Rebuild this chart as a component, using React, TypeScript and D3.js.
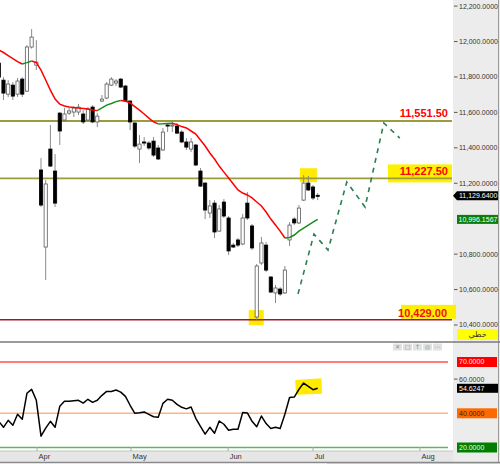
import React from "react";
import * as d3 from "d3";

// ---------- DATA ----------
const opens = [
  11878, 11782, 11703, 11754, 11703, 11788, 11720, 11969, 11867, 11275,
  10840, 11393, 11269, 11596, 11557, 11596, 11602, 11602, 11591, 11557,
  11630, 11546, 11664, 11681, 11754, 11766, 11788, 11749, 11664, 11540,
  11393, 11433, 11427, 11438, 11399, 11388, 11529, 11523, 11523, 11489,
  11433, 11393, 11416, 11269, 11201, 11032, 11088, 10930, 11094, 11004,
  10851, 10880, 10857, 11088, 10959, 10445, 10750, 10851, 10671, 10581,
  10603, 10581, 10880, 10998, 10976, 11105, 11201, 11179, 11132,
];
const highs = [
  11907, 11799, 11782, 11771, 11794, 11799, 11980, 12070, 12008, 11342,
  11218, 11529, 11365, 11602, 11625, 11625, 11636, 11647, 11613, 11630,
  11641, 11596, 11698, 11771, 11799, 11788, 11794, 11754, 11670, 11546,
  11472, 11461, 11438, 11461, 11416, 11512, 11540, 11546, 11540, 11500,
  11455, 11455, 11421, 11286, 11207, 11105, 11105, 11077, 11111, 11015,
  10863, 10891, 11026, 11151, 10970, 10744, 10897, 10868, 10676, 10626,
  10614, 10733, 10981, 11009, 11077, 11246, 11241, 11190, 11145,
];
const lows = [
  11782, 11670, 11687, 11670, 11687, 11687, 11715, 11960, 11839, 11066,
  10654, 11292, 11066, 11416, 11546, 11585, 11574, 11585, 11534, 11551,
  11540, 11517, 11658, 11675, 11749, 11749, 11737, 11658, 11500, 11399,
  11314, 11410, 11388, 11348, 11331, 11382, 11489, 11489, 11478, 11427,
  11388, 11376, 11297, 11179, 10998, 11004, 10891, 10925, 11004, 10795,
  10835, 10840, 10851, 10993, 10823, 10429, 10739, 10699, 10580, 10524,
  10564, 10575, 10846, 10964, 10970, 11100, 11156, 11105, 11105,
];
const closes = [
  11799, 11709, 11760, 11692, 11777, 11703, 11969, 12025, 11884, 11077,
  11196, 11297, 11088, 11495, 11591, 11608, 11625, 11630, 11546, 11619,
  11546, 11579, 11675, 11760, 11788, 11777, 11743, 11664, 11546, 11410,
  11421, 11427, 11399, 11359, 11337, 11489, 11523, 11529, 11483, 11433,
  11404, 11433, 11303, 11184, 11049, 11072, 10925, 11055, 11015, 10818,
  10840, 10851, 11004, 11004, 10835, 10733, 10863, 10710, 10586, 10609,
  10575, 10710, 10964, 10976, 11060, 11201, 11162, 11117, 11129.64,
];
const maValues = [
  11952, 11938, 11921, 11904, 11887, 11873, 11881, 11890, 11881, 11839,
  11783, 11726, 11675, 11647, 11636, 11630, 11627, 11625, 11622, 11619,
  11613, 11610, 11625, 11641, 11650, 11661, 11667, 11664, 11653, 11633,
  11613, 11591, 11568, 11546, 11535, 11536, 11538, 11539, 11531, 11520,
  11512, 11495, 11478, 11444, 11410, 11371, 11337, 11297, 11263, 11230,
  11196, 11162, 11145, 11134, 11117, 11094, 11072, 11038, 10998, 10964,
  10930, 10891, 10894, 10908, 10930, 10947, 10964, 10981, 10996.1567,
];
const rsiValues = [
  35.3, 31.8, 35.9, 33.0, 39.4, 36.5, 51.7, 54.0, 47.6, 26.6,
  31.3, 35.3, 31.8, 44.1, 47.0, 47.0, 47.3, 47.6, 46.0, 48.2,
  46.4, 47.6, 50.5, 52.8, 52.8, 53.6, 52.4, 49.9, 44.7, 40.0,
  40.3, 40.8, 39.4, 38.0, 37.7, 45.8, 48.2, 47.6, 45.2, 43.5,
  42.6, 43.7, 37.1, 32.4, 27.8, 31.8, 28.3, 35.5, 33.6, 30.1,
  30.7, 30.7, 40.4, 40.2, 35.3, 32.1, 38.4, 34.0, 31.1, 31.8,
  31.1, 39.4, 49.2, 49.5, 54.0, 57.7, 55.7, 53.8, 54.6247,
];
const priceTicks = [12200, 12000, 11800, 11600, 11400, 11200, 10800, 10600, 10400];
const monthLabels = ["Apr", "May", "Jun", "Jul", "Aug"];
const monthPositions = [8.15, 28.2, 48.9, 67, 89.8];
const upperLevel = 11551.5;
const middleLevel = 11227.5;
const supportLevel = 10429;
const projectionIdx = [63.8, 67.2, 70.2, 74.2, 78.1, 82.1, 85.5];
const projectionPrice = [10575, 10913, 10823, 11207, 11066, 11540, 11455];
const rsiLevels = [70, 40, 20];
const rsiTickValues = [60];
const modeLabel = "خطي";

// ---------- CHART ----------
const FONT = "'Liberation Sans', Arial, sans-serif";
const AX_FS = 7;

export default function App() {
  const n = closes.length;
  const idx = d3.range(n);
  const x = d3.scaleLinear().domain([0, 68]).range([-1.2, 317.7]);
  const y = d3.scaleLinear().domain([10400, 12200]).range([325, 6.1]);
  const r = d3.scaleLinear().domain([20, 70]).range([447.5, 362]);
  const f4 = d3.format(",.4f");
  const f2 = d3.format(",.2f");
  const plotRight = 452;
  const axisX = 453;
  const bodyW = 3.2;

  const maRuns: { color: string; pts: number[] }[] = [];
  for (let i = 0; i < n - 1; i++) {
    const color = maValues[i + 1] >= maValues[i] ? "#1a8c1a" : "#ff0000";
    const last = maRuns[maRuns.length - 1];
    if (last && last.color === color) last.pts.push(i + 1);
    else maRuns.push({ color, pts: [i, i + 1] });
  }
  const maLine = d3
    .line<number>()
    .x((i) => x(i))
    .y((i) => y(maValues[i]));

  const rsiLine = d3
    .line<number>()
    .x((i) => x(i))
    .y((i) => r(rsiValues[i]));

  const projLine = d3
    .line<number>()
    .x((i) => x(projectionIdx[i]))
    .y((i) => y(projectionPrice[i]));

  const lastClose = closes[n - 1];
  const lastMa = maValues[n - 1];
  const lastRsi = rsiValues[n - 1];

  const rsiColors: Record<number, { line: string; box: string; text: string }> = {
    70: { line: "#ff5050", box: "#ff0000", text: "#ffe8e8" },
    40: { line: "#ffb482", box: "#ff6a00", text: "#3a1a00" },
    20: { line: "#5cb85c", box: "#008000", text: "#e8ffe8" },
  };

  const icons = ["✕", "□", "↑", "◎", "⋯"];

  return (
    <svg
      width={500}
      height={464}
      style={{ position: "absolute", left: 0, top: 0, background: "#fff" }}
      fontFamily={FONT}
    >
      <rect x={0} y={0} width={500} height={464} fill="#ffffff" />
      <rect x={axisX} y={0} width={47} height={464} fill="#ececec" />
      <line x1={498.5} x2={498.5} y1={0} y2={464} stroke="#9a9a9a" />

      {/* highlights */}
      <rect x={x(64.2)} y={y(11285)} width={17} height={14} fill="#ffea00" />
      <rect x={x(53.3)} y={y(10484)} width={15} height={15} fill="#ffea00" />

      {/* level lines */}
      <line x1={0} x2={plotRight} y1={y(upperLevel)} y2={y(upperLevel)} stroke="#9c9c3c" strokeWidth={1.8} />
      <line x1={0} x2={plotRight} y1={y(middleLevel)} y2={y(middleLevel)} stroke="#9c9c3c" strokeWidth={1.8} />
      <line x1={0} x2={plotRight} y1={y(supportLevel)} y2={y(supportLevel)} stroke="#a3192b" strokeWidth={1.5} />

      {/* candles */}
      {idx.map((i) => {
        const up = closes[i] >= opens[i];
        const top = y(Math.max(opens[i], closes[i]));
        const bot = y(Math.min(opens[i], closes[i]));
        const cx = x(i);
        return (
          <g key={i}>
            <line x1={cx} x2={cx} y1={y(highs[i])} y2={y(lows[i])} stroke="#8a8a8a" strokeWidth={1} />
            <rect
              x={cx - bodyW / 2}
              y={top}
              width={bodyW}
              height={Math.max(1, bot - top)}
              fill={up ? "#ffffff" : "#000000"}
              stroke={up ? "#5a5a5a" : "#000000"}
              strokeWidth={0.8}
            />
          </g>
        );
      })}

      {/* MA */}
      {maRuns.map((run, k) => (
        <path key={k} d={maLine(run.pts) || ""} fill="none" stroke={run.color} strokeWidth={1.5} />
      ))}

      {/* projection */}
      <path
        d={projLine(d3.range(projectionIdx.length)) || ""}
        fill="none"
        stroke="#2a8050"
        strokeWidth={1.6}
        strokeDasharray="5,5"
      />

      {/* level labels */}
      <text x={448} y={y(upperLevel) - 4} textAnchor="end" fontSize={11} fontWeight="bold" fill="#ff0000">
        {f2(upperLevel)}
      </text>
      <rect x={388} y={y(middleLevel) - 14} width={64} height={18} fill="#fff000" />
      <line x1={388} x2={plotRight} y1={y(middleLevel)} y2={y(middleLevel)} stroke="#9c9c3c" strokeWidth={1.8} />
      <text x={448} y={y(middleLevel) - 3} textAnchor="end" fontSize={11} fontWeight="bold" fill="#ff0000">
        {f2(middleLevel)}
      </text>
      <rect x={401} y={y(supportLevel) - 15} width={55} height={14} fill="#fff000" />
      <text x={447} y={y(supportLevel) - 2.5} textAnchor="end" fontSize={11} fontWeight="bold" fill="#f01010">
        {f2(supportLevel)}
      </text>

      {/* price axis */}
      {priceTicks.map((t) => (
        <g key={t}>
          <line x1={454} x2={457.5} y1={y(t)} y2={y(t)} stroke="#555" />
          <text x={459} y={y(t)} dy="0.35em" fontSize={AX_FS} fill="#333">
            {f4(t)}
          </text>
        </g>
      ))}
      <polygon
        points={`453,${y(lastClose)} 457,${y(lastClose) - 4.5} 498,${y(lastClose) - 4.5} 498,${y(lastClose) + 4.5} 457,${y(lastClose) + 4.5}`}
        fill="#000"
      />
      <text x={459} y={y(lastClose)} dy="0.35em" fontSize={AX_FS} fill="#fff">
        {f4(lastClose)}
      </text>
      <rect x={457} y={y(lastMa) - 4.5} width={41} height={9} fill="#0a7d0a" />
      <text x={458.5} y={y(lastMa)} dy="0.35em" fontSize={AX_FS} fill="#fff">
        {f4(lastMa)}
      </text>
      <rect x={457} y={329} width={41} height={11} fill="#ffff00" />
      <text x={477.5} y={334.5} dy="0.35em" textAnchor="middle" fontSize={8} fontFamily="'DejaVu Sans', sans-serif" fill="#333">
        {modeLabel}
      </text>

      {/* panel separator */}
      <line x1={0} x2={500} y1={342} y2={342} stroke="#7a7a7a" strokeWidth={1.6} />
      <rect x={0} y={343} width={axisX} height={108} fill="#ffffff" />

      {/* RSI panel icons */}
      {icons.map((ic, k) => (
        <g key={k}>
          <rect x={393 + k * 10} y={343.5} width={9} height={7} fill="#e2e2e2" />
          <text x={397.5 + k * 10} y={347} dy="0.35em" textAnchor="middle" fontSize={6} fontFamily="'DejaVu Sans', sans-serif" fill="#8a8a8a">
            {ic}
          </text>
        </g>
      ))}

      {/* RSI levels */}
      {rsiLevels.map((lv) => (
        <g key={lv}>
          <line x1={0} x2={448} y1={r(lv)} y2={r(lv)} stroke={rsiColors[lv].line} strokeWidth={1.4} />
          <rect x={457} y={r(lv) - 5} width={40} height={10} fill={rsiColors[lv].box} />
          <text x={459} y={r(lv)} dy="0.35em" fontSize={AX_FS} fill={rsiColors[lv].text}>
            {f4(lv)}
          </text>
        </g>
      ))}
      {rsiTickValues.map((t) => (
        <g key={t}>
          <line x1={454} x2={457.5} y1={r(t)} y2={r(t)} stroke="#555" />
          <text x={459} y={r(t)} dy="0.35em" fontSize={AX_FS} fill="#333">
            {f4(t)}
          </text>
        </g>
      ))}

      {/* RSI highlight + line */}
      <path
        d={`M${x(63.2)},${r(59.5)} L${x(68.8)},${r(60.5)} L${x(68.9)},${r(51.5)} L${x(63.4)},${r(50.8)} Z`}
        fill="#ffea00"
      />
      <path d={rsiLine(idx) || ""} fill="none" stroke="#000" strokeWidth={1.5} strokeLinejoin="round" />
      <rect x={457} y={r(lastRsi) - 4.5} width={41} height={9} fill="#000" />
      <text x={459} y={r(lastRsi)} dy="0.35em" fontSize={AX_FS} fill="#fff">
        {f4(lastRsi)}
      </text>

      {/* time axis */}
      <rect x={0} y={451} width={axisX} height={11} fill="#e6e6e6" />
      <line x1={0} x2={axisX} y1={451} y2={451} stroke="#c4c4c4" />
      <line x1={0} x2={500} y1={462.5} y2={462.5} stroke="#8a8a8a" strokeWidth={1.5} />
      <rect x={327} y={463} width={173} height={1} fill="#c8c8c8" />
      {monthLabels.map((m, k) => (
        <g key={m}>
          <line x1={x(monthPositions[k])} x2={x(monthPositions[k])} y1={447} y2={451} stroke="#aaa" />
          <text x={x(monthPositions[k]) + 1.5} y={456.8} dy="0.35em" fontSize={7.5} fill="#333">
            {m}
          </text>
        </g>
      ))}
    </svg>
  );
}
